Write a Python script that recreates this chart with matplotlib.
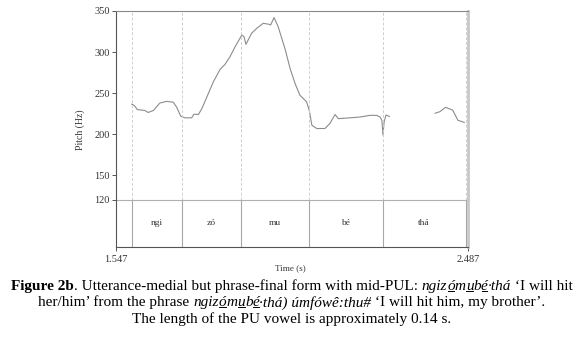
import matplotlib
matplotlib.use("Agg")
import matplotlib.pyplot as plt

plt.rcParams['font.family'] = ['Liberation Serif', 'DejaVu Serif']

# ---- data ----
seg1_time = [1.589, 1.596, 1.604, 1.624, 1.633, 1.647, 1.664, 1.682, 1.700, 1.709,
             1.720, 1.731, 1.749, 1.755, 1.767, 1.776, 1.789, 1.807, 1.825, 1.838,
             1.851, 1.865, 1.883, 1.889, 1.894, 1.909, 1.923, 1.940, 1.954, 1.960,
             1.969, 1.980, 1.998, 2.012, 2.025, 2.038, 2.056, 2.063, 2.070, 2.083,
             2.105, 2.118, 2.132, 2.141, 2.172, 2.199, 2.225, 2.243, 2.252, 2.257,
             2.260, 2.263, 2.268, 2.277]
seg1_pitch = [236.6, 235.0, 230.0, 229.0, 226.5, 229.0, 238.0, 240.0, 239.0, 233.0,
              222.0, 220.0, 220.0, 224.4, 224.0, 231.0, 244.7, 263.8, 279.0, 285.0,
              294.0, 306.5, 320.7, 318.7, 309.4, 322.8, 329.0, 335.0, 334.0, 333.0,
              342.0, 331.0, 304.5, 280.0, 262.0, 247.6, 239.4, 229.3, 211.0, 207.0,
              207.0, 213.0, 224.0, 219.0, 220.0, 221.0, 223.0, 223.0, 221.0, 217.0,
              199.0, 215.0, 223.4, 221.7]
seg2_time = [2.399, 2.412, 2.427, 2.434, 2.446, 2.460, 2.477]
seg2_pitch = [225.5, 227.5, 232.8, 231.5, 229.5, 217.0, 214.5]

boundaries = [1.589, 1.722, 1.882, 2.063, 2.259, 2.481]
syllables = ['ngi', 'zó', 'mu', 'bé', 'thá']
y_ticks = [120, 150, 200, 250, 300, 350]
x_start, x_end = 1.547, 2.487
tier_top = 120
y_floor = 62.8
y_top = 350

fig = plt.figure(figsize=(5.8, 3.39), dpi=100)
fig.patch.set_facecolor('white')
ax = fig.add_axes([116 / 580, 92 / 339, 352 / 580, 236 / 339])
ax.set_xlim(x_start, x_end)
ax.set_ylim(y_floor, y_top)

# pitch contour
for t, f in [(seg1_time, seg1_pitch), (seg2_time, seg2_pitch)]:
    ax.plot(t, f, color='#8c8c8c', lw=0.8, solid_joinstyle='round')

# boundaries
for b in boundaries:
    ax.plot([b, b], [tier_top, y_top], color='#cfcfcf', lw=0.7, ls=(0, (3, 2)))
    ax.plot([b, b], [y_floor, tier_top], color='#a8a8a8', lw=0.8)
ax.axhline(tier_top, color='#b0b0b0', lw=0.8)

# syllable labels
for i, s in enumerate(syllables):
    ax.text((boundaries[i] + boundaries[i + 1]) / 2, (y_floor + tier_top) / 2, s,
            ha='center', va='center', fontsize=6.8, color='#333333')

# spines
for sp in ['left', 'bottom', 'top']:
    ax.spines[sp].set_color('#555555')
    ax.spines[sp].set_linewidth(0.8)
ax.spines['top'].set_color('#888888')
ax.spines['right'].set_color('#c8c8c8')
ax.spines['right'].set_linewidth(2.0)

ax.set_yticks(y_ticks)
ax.set_yticklabels([str(v) for v in y_ticks])
ax.set_xticks([x_start, x_end])
ax.set_xticklabels([f'{x_start:.3f}', f'{x_end:.3f}'])
ax.tick_params(axis='both', length=3, width=0.7, color='#555555', labelsize=7.5,
               labelcolor='#333333', pad=1.5)
ax.tick_params(axis='x', pad=3)

fig.text(80 / 580, 1 - 130 / 339, 'Pitch (Hz)', rotation=90, ha='center', va='center',
         fontsize=7, color='#333333')
fig.text(290 / 580, 1 - 268 / 339, 'Time (s)', ha='center', va='center',
         fontsize=6.6, color='#333333')

# ---- caption ----
cap_lines = [
    [('Figure 2b', 'bold', 'normal', False), ('. Utterance-medial but phrase-final form with mid-PUL: ', 'normal', 'normal', False),
     ('ngiz', 'normal', 'italic', False), ('ó', 'normal', 'italic', True), ('m', 'normal', 'italic', False),
     ('u', 'normal', 'italic', True), ('b', 'normal', 'italic', False), ('é', 'normal', 'italic', True),
     ('·thá', 'normal', 'italic', False), (' ‘I will hit', 'normal', 'normal', False)],
    [('her/him’ from the phrase ', 'normal', 'normal', False),
     ('ngiz', 'normal', 'italic', False), ('ó', 'normal', 'italic', True), ('m', 'normal', 'italic', False),
     ('u', 'normal', 'italic', True), ('b', 'normal', 'italic', False), ('é', 'normal', 'italic', True),
     ('·thá) úmfówê:thu#', 'normal', 'italic', False), (' ‘I will hit him, my brother’.', 'normal', 'normal', False)],
    [('The length of the PU vowel is approximately 0.14 s.', 'normal', 'normal', False)],
]
cap_y = [285, 301, 318]
cap_size = 11.0

renderer = fig.canvas.get_renderer()


def text_width(s, weight, style):
    t1 = fig.text(0, 0, '|' + s + '|', fontsize=cap_size, weight=weight, style=style)
    t2 = fig.text(0, 0, '||', fontsize=cap_size, weight=weight, style=style)
    w = t1.get_window_extent(renderer).width - t2.get_window_extent(renderer).width
    t1.remove()
    t2.remove()
    return w


W = 580.0
for parts, yy in zip(cap_lines, cap_y):
    widths = [text_width(s, wt, st) for s, wt, st, ul in parts]
    total = sum(widths)
    x = (W - total) / 2.0 + 2
    for (s, wt, st, ul), w in zip(parts, widths):
        fig.text(x / W, 1 - yy / 339, s, fontsize=cap_size, weight=wt, style=st,
                 ha='left', va='center_baseline', color='black')
        if ul:
            uy = 1 - (yy + 6) / 339
            fig.add_artist(plt.Line2D([(x + 0.5) / W, (x + w - 0.5) / W], [uy, uy],
                                      transform=fig.transFigure, color='black', lw=0.7))
        x += w

fig.savefig('out.png', dpi=100, facecolor='white')
